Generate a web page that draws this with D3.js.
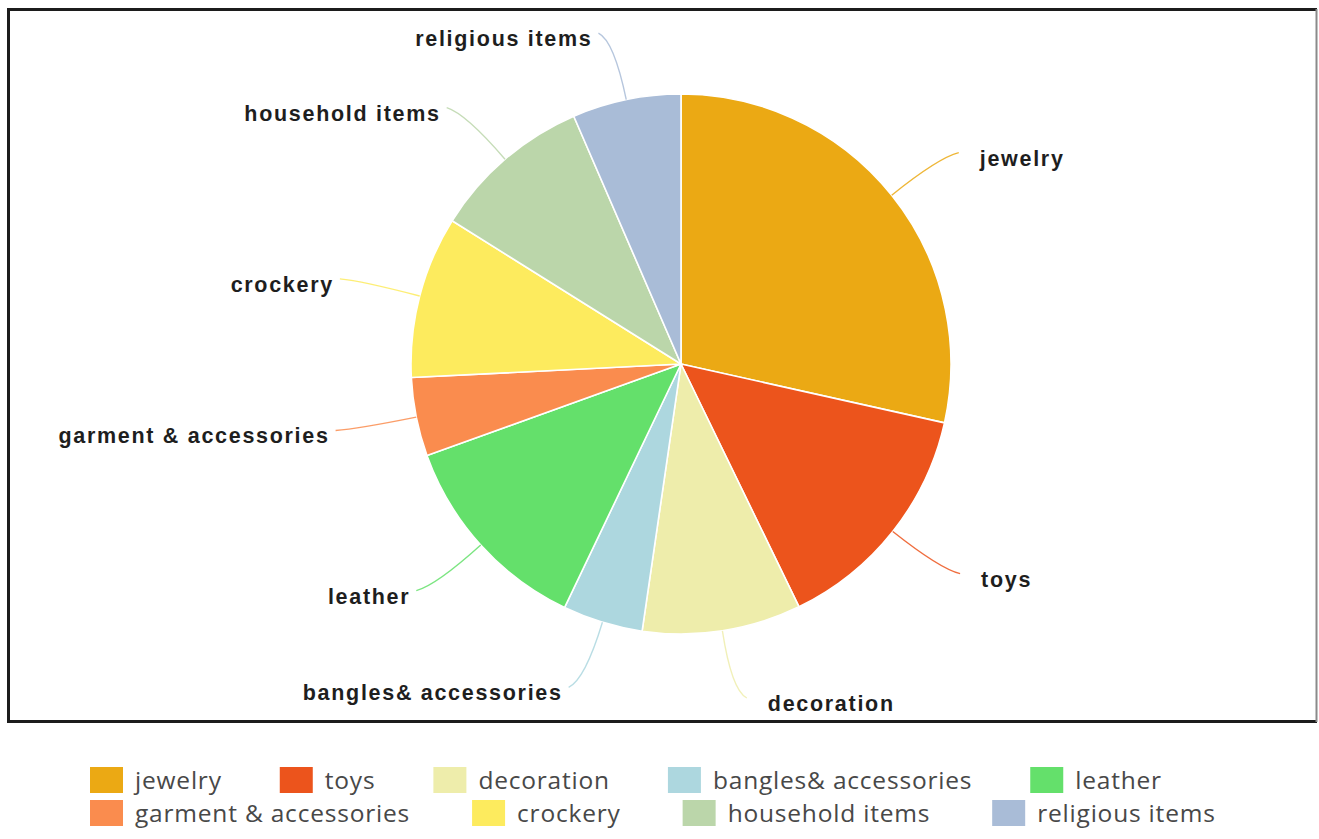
<!DOCTYPE html>
<html>
<head>
<meta charset="utf-8">
<script src="https://cdn.jsdelivr.net/npm/d3@7"></script>
<style>
  html, body { margin: 0; padding: 0; background: #fff; }
  svg { display: block; }
</style>
</head>
<body>
<svg id="chart" width="1319" height="839"></svg>
<script>
// Product categories and their share (percent)
const categories = ["jewelry", "toys", "decoration", "bangles& accessories", "leather",
                    "garment & accessories", "crockery", "household items", "religious items"];
const shares = [28.5, 14.3, 9.5, 4.8, 12.4, 4.7, 9.7, 9.6, 6.5];
const sliceColors = ["#EBA914", "#EC541C", "#EEEDAB", "#ADD7DF", "#64E06B",
                     "#FA8C4E", "#FDEB5E", "#BBD6AA", "#A9BCD7"];
// Legend rows
const legendRows = [
  ["jewelry", "toys", "decoration", "bangles& accessories", "leather"],
  ["garment & accessories", "crockery", "household items", "religious items"]
];

const data = categories.map((c, i) => ({ name: c, value: shares[i] }));

const svg = d3.select("#chart");

// frame
const frame = svg.append("g");
frame.append("line").attr("x1", 7).attr("x2", 1317).attr("y1", 9.5).attr("y2", 9.5)
  .attr("stroke", "#1c1c1c").attr("stroke-width", 3);
frame.append("line").attr("x1", 8.5).attr("x2", 8.5).attr("y1", 8).attr("y2", 723)
  .attr("stroke", "#1c1c1c").attr("stroke-width", 3);
frame.append("line").attr("x1", 7).attr("x2", 1317).attr("y1", 721.5).attr("y2", 721.5)
  .attr("stroke", "#1c1c1c").attr("stroke-width", 3);
frame.append("line").attr("x1", 1316.5).attr("x2", 1316.5).attr("y1", 9).attr("y2", 722)
  .attr("stroke", "#8a8a8a").attr("stroke-width", 2);

const cx = 681, cy = 364, R = 270;
const color = d3.scaleOrdinal().domain(categories).range(sliceColors);

const pie = d3.pie().value(d => d.value).sort(null);
const arcs = pie(data);
const arc = d3.arc().innerRadius(0).outerRadius(R);

const g = svg.append("g").attr("transform", `translate(${cx},${cy})`);

g.selectAll("path.slice")
  .data(arcs)
  .join("path")
  .attr("class", "slice")
  .attr("d", arc)
  .attr("fill", d => color(d.data.name))
  .attr("stroke", "#ffffff")
  .attr("stroke-width", 1.6)
  .attr("stroke-linejoin", "round");

// leader lines and labels
const polar = (a, r) => [Math.sin(a) * r, -Math.cos(a) * r];
const midA = d => (d.startAngle + d.endAngle) / 2;

g.selectAll("path.leader")
  .data(arcs)
  .join("path")
  .attr("class", "leader")
  .attr("fill", "none")
  .attr("stroke", d => color(d.data.name))
  .attr("stroke-width", 1.4)
  .attr("opacity", 0.85)
  .attr("d", d => {
    const a = midA(d);
    const side = Math.sin(a) >= 0 ? 1 : -1;
    const p0 = polar(a, R);
    const p1 = polar(a, 330);
    const e = polar(a, 338);
    const p2 = [e[0] + side * 14, e[1]];
    return `M${p0[0]},${p0[1]} Q${p1[0]},${p1[1]} ${p2[0]},${p2[1]}`;
  });

g.selectAll("text.label")
  .data(arcs)
  .join("text")
  .attr("class", "label")
  .attr("font-family", "'Liberation Sans', Arial, sans-serif")
  .attr("font-weight", "bold")
  .attr("font-size", 21.5)
  .attr("letter-spacing", 1.7)
  .attr("fill", "#1e1e1e")
  .attr("text-anchor", d => Math.sin(midA(d)) >= 0 ? "start" : "end")
  .attr("x", d => {
    const a = midA(d);
    const side = Math.sin(a) >= 0 ? 1 : -1;
    const e = polar(a, 338);
    return e[0] + side * (side > 0 ? 35 : 20);
  })
  .attr("y", d => polar(midA(d), 338)[1] + 13)
  .text(d => d.data.name);

// legend
const legend = svg.append("g").attr("class", "legend");
const rowY = [780, 813];
const legendGap = [58, 62];
legendRows.forEach((row, ri) => {
  let x = 90;
  row.forEach(name => {
    const item = legend.append("g").attr("transform", `translate(${x},${rowY[ri]})`);
    item.append("rect")
      .attr("x", 0).attr("y", -13)
      .attr("width", 33).attr("height", 26)
      .attr("fill", color(name));
    const t = item.append("text")
      .attr("x", 45).attr("y", 8.5)
      .attr("font-family", "'Open Sans', sans-serif")
      .attr("font-size", 24.5)
      .attr("letter-spacing", 0.8)
      .attr("fill", "#484848")
      .text(name);
    const w = t.node().getComputedTextLength();
    x += 45 + w + legendGap[ri];
  });
});
</script>
</body>
</html>
